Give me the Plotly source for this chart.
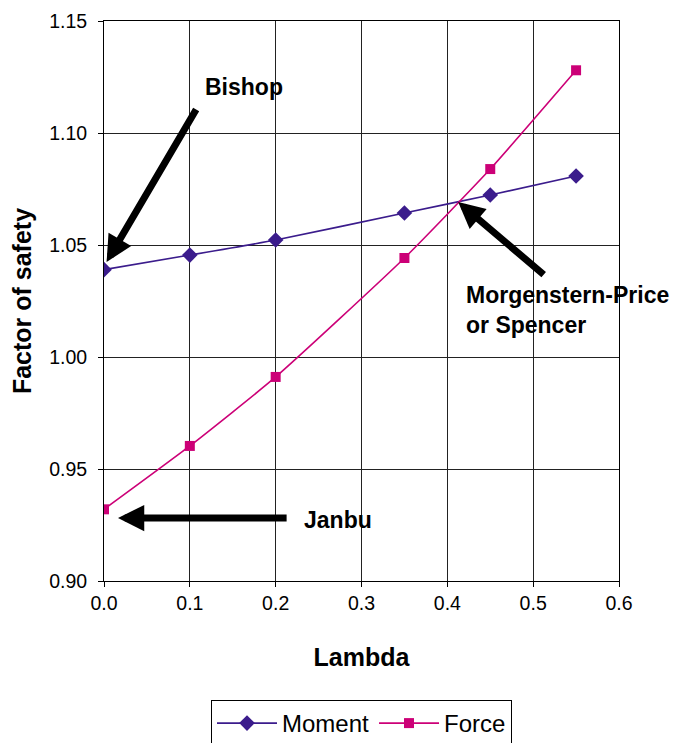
import plotly.graph_objects as go

lam_moment = [0.0, 0.1, 0.2, 0.35, 0.45, 0.55]
fs_moment = [1.039, 1.0455, 1.0522, 1.0643, 1.0723, 1.0808]
lam_force = [0.0, 0.1, 0.2, 0.35, 0.45, 0.55]
fs_force = [0.932, 0.9603, 0.9911, 1.0442, 1.0839, 1.128]

FONT = "Liberation Sans, Arial, sans-serif"

fig = go.Figure()
fig.add_trace(go.Scatter(
    x=lam_moment, y=fs_moment, name="Moment", mode="lines+markers",
    line=dict(color="#3B1C8C", width=1.6, shape="spline", smoothing=0.5),
    marker=dict(symbol="diamond", size=12, color="#3B1C8C"),
))
fig.add_trace(go.Scatter(
    x=lam_force, y=fs_force, name="Force", mode="lines+markers",
    line=dict(color="#CC0077", width=1.6, shape="spline", smoothing=0.5),
    marker=dict(symbol="square", size=10, color="#CC0077"),
))

arrow_common = dict(xref="x", yref="y", axref="x", ayref="y", text="",
                    showarrow=True, arrowhead=2, arrowsize=0.75, arrowwidth=7,
                    arrowcolor="black")
fig.add_annotation(x=0.003, y=1.0424, ax=0.1084, ay=1.1112, **arrow_common)
fig.add_annotation(x=0.0163, y=0.9281, ax=0.2145, ay=0.9281, **arrow_common)
fig.add_annotation(x=0.4126, y=1.0692, ax=0.514, ay=1.0362, **arrow_common)

txt = dict(xref="x", yref="y", showarrow=False, xanchor="left",
           font=dict(family=FONT, size=23, color="black"))
fig.add_annotation(x=0.1155, y=1.1205, text="<b>Bishop</b>", **txt)
fig.add_annotation(x=0.2305, y=0.9272, text="<b>Janbu</b>", **txt)
fig.add_annotation(x=0.4195, y=1.0212, text="<b>Morgenstern-Price<br>or Spencer</b>",
                   align="left", **txt)

fig.update_layout(
    width=674, height=735,
    margin=dict(l=96, r=63, t=13, b=162, autoexpand=False),
    paper_bgcolor="white", plot_bgcolor="white",
    font=dict(family=FONT, size=19.5, color="black"),
    showlegend=True,
    legend=dict(orientation="h", x=0.5, xanchor="center", y=-0.2125, yanchor="top",
                bordercolor="black", borderwidth=1, itemwidth=60,
                font=dict(family=FONT, size=24)),
    xaxis=dict(range=[0, 0.6], dtick=0.1, tickformat=".1f", automargin=False,
               showgrid=True, gridcolor="#222222", gridwidth=1,
               showline=True, linecolor="black", linewidth=1, mirror=True,
               ticks="outside", ticklen=5, tickcolor="black",
               zeroline=False,
               title=dict(text="<b>Lambda</b>", font=dict(family=FONT, size=25), standoff=35)),
    yaxis=dict(range=[0.90, 1.15], dtick=0.05, tickformat=".2f", automargin=False,
               showgrid=True, gridcolor="#222222", gridwidth=1,
               showline=True, linecolor="black", linewidth=1, mirror=True,
               ticks="outside", ticklen=5, tickcolor="black", ticklabelstandoff=7,
               zeroline=False,
               title=dict(text="<b>Factor of safety</b>", font=dict(family=FONT, size=25), standoff=14)),
)

fig.write_html("out.html")
